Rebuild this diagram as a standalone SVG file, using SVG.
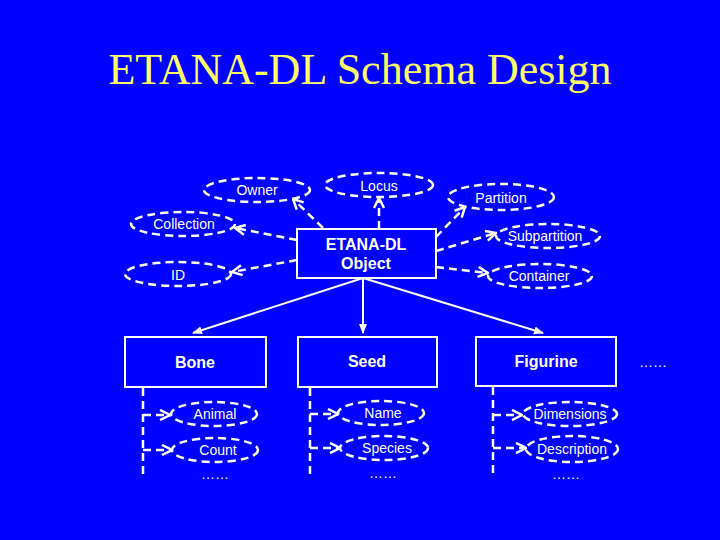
<svg xmlns="http://www.w3.org/2000/svg" width="720" height="540" viewBox="0 0 720 540">
<defs>
<style>
.lbl{font-family:"Liberation Sans",Arial,sans-serif;font-size:14px;fill:#fff;text-anchor:middle}
.bold{font-family:"Liberation Sans",Arial,sans-serif;font-size:16px;font-weight:bold;fill:#fff;text-anchor:middle}
.att{fill:none;stroke:#fff;stroke-width:2.5;stroke-dasharray:8,5}
.box{fill:#0000FF;stroke:#fff;stroke-width:2}
.dash{fill:none;stroke:#fff;stroke-width:2.5;stroke-dasharray:8,5}
.solid{fill:none;stroke:#fff;stroke-width:2}
</style>
<marker id="open" viewBox="0 0 10 10" refX="9" refY="5" markerWidth="5" markerHeight="5" orient="auto" markerUnits="strokeWidth">
<path d="M1,1 L9,5 L1,9" fill="none" stroke="#fff" stroke-width="2"/>
</marker>
<marker id="solidArr" viewBox="0 0 10 10" refX="9" refY="5" markerWidth="5" markerHeight="5" orient="auto" markerUnits="strokeWidth">
<path d="M0,1 L10,5 L0,9 z" fill="#fff"/>
</marker>
</defs>
<rect x="0" y="0" width="720" height="540" fill="#0000FF"/>
<text x="360" y="84" font-family="Liberation Serif,'Times New Roman',serif" font-size="44" fill="#FFFF66" text-anchor="middle">ETANA-DL Schema Design</text>

<g id="connectors">
<path class="dash" d="M323,228 L293,199" marker-end="url(#open)"/>
<path class="dash" d="M379,229 L379,198" marker-end="url(#open)"/>
<path class="dash" d="M297,240 L235,228" marker-end="url(#open)"/>
<path class="dash" d="M297,260 L232,272" marker-end="url(#open)"/>
<path class="dash" d="M436,237 L465,207" marker-end="url(#open)"/>
<path class="dash" d="M436,251 L496,233" marker-end="url(#open)"/>
<path class="dash" d="M436,267 L488,273" marker-end="url(#open)"/>
<path class="solid" d="M363,278 L193,333" marker-end="url(#solidArr)"/>
<path class="solid" d="M363,278 L363,333" marker-end="url(#solidArr)"/>
<path class="solid" d="M363,278 L543,333" marker-end="url(#solidArr)"/>
<path class="dash" d="M143,388 L143,478"/>
<path class="dash" d="M143,415 L170,415" marker-end="url(#open)"/>
<path class="dash" d="M143,450 L172,450" marker-end="url(#open)"/>
<path class="dash" d="M310,388 L310,478"/>
<path class="dash" d="M310,414 L338,414" marker-end="url(#open)"/>
<path class="dash" d="M310,448 L340,448" marker-end="url(#open)"/>
<path class="dash" d="M493,387 L493,477"/>
<path class="dash" d="M493,415 L522,415" marker-end="url(#open)"/>
<path class="dash" d="M493,448 L526,448" marker-end="url(#open)"/>
</g>

<g id="owner"><ellipse class="att" cx="257" cy="190" rx="53" ry="12"/><text class="lbl" x="257" y="195">Owner</text></g>
<g id="locus"><ellipse class="att" cx="379" cy="185" rx="54" ry="12"/><text class="lbl" x="379" y="191">Locus</text></g>
<g id="collection"><ellipse class="att" cx="183" cy="224" rx="52" ry="12"/><text class="lbl" x="184" y="229">Collection</text></g>
<g id="id"><ellipse class="att" cx="178" cy="274" rx="53" ry="12"/><text class="lbl" x="178" y="280">ID</text></g>
<g id="partition"><ellipse class="att" cx="501" cy="197" rx="53" ry="13"/><text class="lbl" x="501" y="203">Partition</text></g>
<g id="subpartition"><ellipse class="att" cx="548" cy="236" rx="52" ry="12"/><text class="lbl" x="545" y="241">Subpartition</text></g>
<g id="container"><ellipse class="att" cx="540" cy="276" rx="52" ry="12"/><text class="lbl" x="539" y="281">Container</text></g>

<g id="object"><rect class="box" x="297" y="229" width="139" height="49"/><text class="bold" x="366" y="250">ETANA-DL</text><text class="bold" x="366" y="269">Object</text></g>

<g id="bone"><rect class="box" x="125" y="337" width="141" height="50"/><text class="bold" x="195" y="368">Bone</text></g>
<g id="seed"><rect class="box" x="298" y="337" width="139" height="50"/><text class="bold" x="367" y="367">Seed</text></g>
<g id="figurine"><rect class="box" x="476" y="337" width="140" height="49"/><text class="bold" x="546" y="367">Figurine</text></g>
<g id="more"><text class="lbl" x="653" y="367">……</text></g>

<g id="animal"><ellipse class="att" cx="214" cy="414" rx="43" ry="12"/><text class="lbl" x="215" y="419">Animal</text></g>
<g id="count"><ellipse class="att" cx="215" cy="450" rx="43" ry="12"/><text class="lbl" x="218" y="455">Count</text></g>
<g id="bone-more"><text class="lbl" x="215" y="479">……</text></g>

<g id="name"><ellipse class="att" cx="381" cy="413" rx="43" ry="12"/><text class="lbl" x="383" y="418">Name</text></g>
<g id="species"><ellipse class="att" cx="384" cy="448" rx="44" ry="12"/><text class="lbl" x="387" y="453">Species</text></g>
<g id="seed-more"><text class="lbl" x="383" y="478">……</text></g>

<g id="dimensions"><ellipse class="att" cx="570" cy="414" rx="47" ry="12"/><text class="lbl" x="570" y="419">Dimensions</text></g>
<g id="description"><ellipse class="att" cx="572" cy="449" rx="46" ry="13"/><text class="lbl" x="572" y="454">Description</text></g>
<g id="fig-more"><text class="lbl" x="566" y="479">……</text></g>
</svg>
